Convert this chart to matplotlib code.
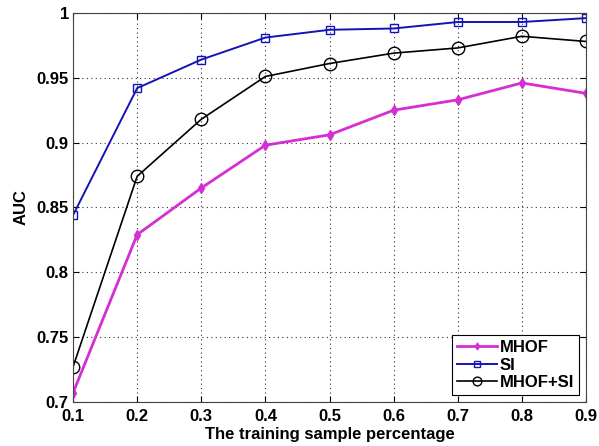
import matplotlib.pyplot as plt

plt.rcParams['font.family'] = ['Liberation Sans', 'DejaVu Sans']
plt.rcParams['font.weight'] = 'bold'

ratio = [0.1, 0.2, 0.3, 0.4, 0.5, 0.6, 0.7, 0.8, 0.9]
auc_mhof = [0.707, 0.829, 0.865, 0.898, 0.906, 0.925, 0.933, 0.946, 0.938]
auc_si = [0.844, 0.942, 0.964, 0.981, 0.987, 0.988, 0.993, 0.993, 0.996]
auc_mhof_si = [0.727, 0.874, 0.918, 0.951, 0.961, 0.969, 0.973, 0.982, 0.978]

fig = plt.figure(figsize=(5.99, 4.46), dpi=100)
ax = fig.add_axes([0.1219, 0.0987, 0.8564, 0.8723])

ax.plot(ratio, auc_mhof, color='#d42ed4', lw=2, marker='d', ms=5,
        mfc='#d42ed4', mec='#d42ed4', label='MHOF')
ax.plot(ratio, auc_si, color='#1414b4', lw=1.4, marker='s', ms=6,
        mfc='none', mec='#1414b4', label='SI')
ax.plot(ratio, auc_mhof_si, color='black', lw=1.2, marker='o', ms=9,
        mfc='none', mec='black', label='MHOF+SI')

ax.set_xlim(0.1, 0.9)
ax.set_ylim(0.7, 1.0)
ax.set_xticks(ratio)
ax.set_xticklabels(['0.1', '0.2', '0.3', '0.4', '0.5', '0.6', '0.7', '0.8', '0.9'])
ax.set_yticks([0.7, 0.75, 0.8, 0.85, 0.9, 0.95, 1.0])
ax.set_yticklabels(['0.7', '0.75', '0.8', '0.85', '0.9', '0.95', '1'])
ax.tick_params(direction='in', labelsize=12, top=True, right=True, length=4)
ax.tick_params(axis='x', pad=5)
ax.tick_params(axis='y', pad=3)
ax.grid(True, linestyle=(0, (1, 3)), color='#333333', lw=0.8)
for s in ax.spines.values():
    s.set_color('#444444')

ax.set_xlabel('The training sample percentage', fontsize=12, fontweight='bold', labelpad=2)
ax.set_ylabel('AUC', fontsize=12, fontweight='bold', labelpad=6)

leg = ax.legend(loc='lower right', fontsize=12, fancybox=False, framealpha=1,
                edgecolor='black', borderaxespad=0.4, handlelength=2.4,
                handletextpad=0.2, labelspacing=0.15, borderpad=0.3,
                markerscale=0.7)
leg.get_frame().set_linewidth(0.8)

fig.savefig('out.png', dpi=100)
